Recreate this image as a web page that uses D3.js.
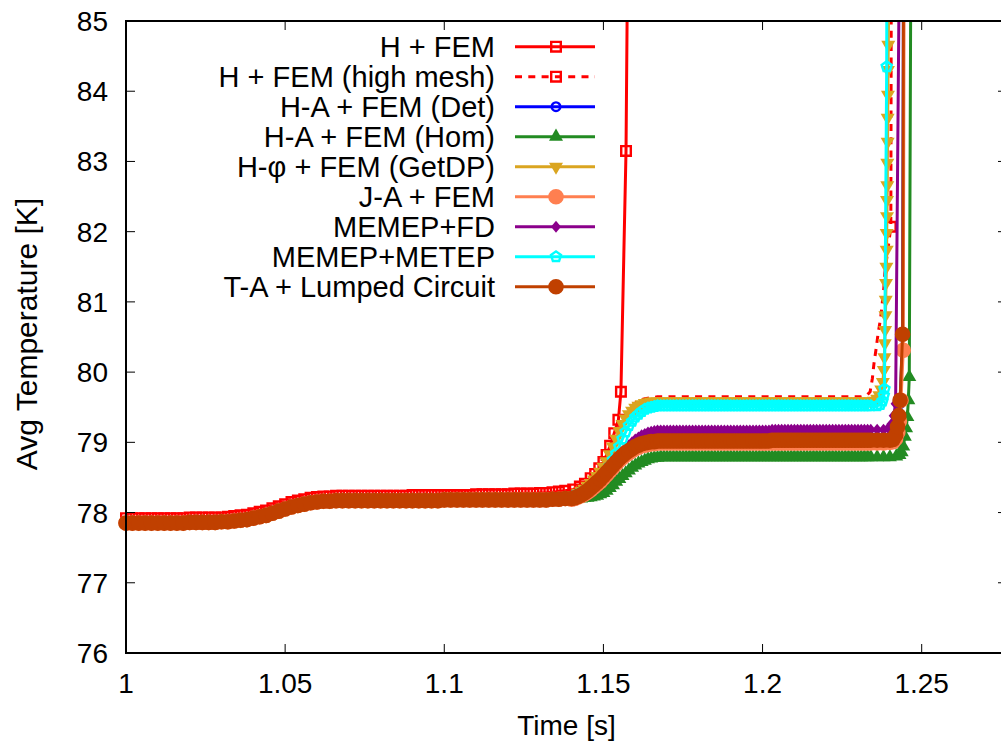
<!DOCTYPE html>
<html>
<head>
<meta charset="utf-8">
<script src="https://cdn.jsdelivr.net/npm/d3@7"></script>
<style>
  body { margin: 0; background: #fff; }
  svg { display: block; }
  text { font-family: "Liberation Sans", Arial, Helvetica, sans-serif; }
</style>
</head>
<body>
<svg id="chart" width="1001" height="745"></svg>
<script>
// ---- sampling instants [s] ----
const earlyTime = [1.000,1.002,1.004,1.006,1.008,1.010,1.012,1.014,1.016,1.018,1.020,1.022,1.024,1.026,1.028,1.030,
  1.032,1.034,1.036,1.038,1.040,1.042,1.044,1.046,1.048,1.050,1.052,1.054,1.056,1.058,1.060,1.062,1.064,1.066,1.068,
  1.070,1.072,1.074,1.076,1.078,1.080,1.082,1.084,1.086,1.088,1.090,1.092,1.094,1.096,1.098,
  1.100,1.102,1.104,1.106,1.108,1.110,1.112,1.114,1.116,1.118,1.120,1.122,1.124,1.126,1.128,
  1.130,1.132,1.134,1.136,1.138];
const lateTime = [1.140,1.141,1.142,1.143,1.144,1.145,1.146,1.147,1.148,1.149,
  1.150,1.151,1.152,1.153,1.154,1.155,1.156,1.157,1.158,1.159,
  1.160,1.161,1.162,1.163,1.164,1.165,1.166,1.167,1.168,1.169,
  1.170,1.171,1.172,1.173,1.174,1.175,1.176,1.177,1.178,1.179,
  1.180,1.181,1.182,1.183,1.184,1.185,1.186,1.187,1.188,1.189,
  1.190,1.191,1.192,1.193,1.194,1.195,1.196,1.197,1.198,1.199,
  1.200,1.201,1.202,1.203,1.204,1.205,1.206,1.207,1.208,1.209,
  1.210,1.211,1.212,1.213,1.214,1.215,1.216,1.217,1.218,1.219,
  1.220,1.221,1.222,1.223,1.224,1.225,1.226,1.227,1.228,1.229,
  1.230,1.231,1.232,1.233,1.234];

// ---- first step, common to all models except H + FEM [K] ----
const earlyTemp = [77.85,77.85,77.85,77.85,77.85,77.85,77.85,77.85,77.85,77.85,77.86,77.86,77.86,77.86,77.86,77.87,
  77.87,77.88,77.89,77.90,77.92,77.94,77.96,77.99,78.02,78.05,78.08,78.10,78.12,78.14,78.15,78.16,78.16,78.17,78.17,
  78.17,78.17,78.17,78.17,78.17,78.17,78.17,78.17,78.17,78.17,78.17,78.17,78.17,78.17,78.17,
  78.18,78.18,78.18,78.18,78.18,78.18,78.18,78.18,78.18,78.18,78.18,78.18,78.18,78.18,78.18,
  78.18,78.18,78.19,78.19,78.20];

// ---- H + FEM ----
const hfemEarly = [77.92,77.92,77.92,77.92,77.92,77.92,77.92,77.92,77.92,77.92,77.93,77.93,77.93,77.93,77.93,77.93,
  77.94,77.95,77.96,77.97,77.99,78.01,78.03,78.06,78.09,78.12,78.15,78.17,78.19,78.21,78.22,78.23,78.23,78.24,78.24,
  78.24,78.24,78.24,78.24,78.24,78.24,78.24,78.24,78.24,78.24,78.25,78.25,78.25,78.25,78.25,
  78.25,78.25,78.25,78.25,78.25,78.26,78.26,78.26,78.26,78.26,78.26,78.27,78.27,78.27,78.27,
  78.28,78.28,78.29,78.30,78.31];
const hfemTailT = [1.1405,1.1426,1.1442,1.1460,1.1474,1.1487,1.1500,1.1510,1.1521,1.1534,1.1547,1.1555,1.1571,1.1578];
const hfemTailV = [78.33,78.37,78.41,78.49,78.55,78.63,78.72,78.82,78.95,79.13,79.32,79.72,83.15,87.00];

// ---- H + FEM (high mesh) ----
const highMeshLate = [78.24,78.26,78.29,78.32,78.35,78.39,78.44,78.49,78.55,78.62,78.69,78.78,78.88,78.99,79.10,79.21,
  79.32,79.40,79.47,79.52,79.56,79.59,79.61,79.62,79.63,79.64,79.64,79.65,79.65,79.65,79.65,
  79.65,79.65,79.65,79.65,79.65,79.65,79.65,79.65,79.65,79.65,79.65,79.65,79.65,79.65,79.65,79.65,
  79.65,79.65,79.65,79.65,79.65,79.65,79.65,79.65,79.65,79.65,79.65,79.65,79.65,79.65,79.65,79.65,
  79.65,79.65,79.65,79.65,79.65,79.65,79.65,79.65,79.65,79.65,79.65,79.65,79.65,79.65,79.65,79.65,
  79.65,79.65,79.65,79.65,79.65,79.65,79.65,79.65,79.65,79.65,79.65,79.65,79.65];
const highMeshTailT = [1.2320,1.2330,1.2338,1.2345,1.2350,1.2357,1.2363,1.2371,1.2376,1.2381,1.2384,1.2394,1.2403,1.2405];
const highMeshTailV = [79.66,79.68,79.72,79.91,80.12,80.34,80.55,80.77,80.98,81.20,81.41,81.75,82.07,87.00];
const highMeshMarkT = [1.2403];
const highMeshMarkV = [82.07];

// ---- H-A + FEM (Det) ----
const detLate = [78.20,78.21,78.23,78.25,78.27,78.30,78.33,78.37,78.41,78.45,78.50,78.55,78.60,78.65,78.70,78.75,
  78.79,78.83,78.86,78.89,78.92,78.94,78.96,78.97,78.98,78.99,78.99,79.00,79.00,79.00,79.00,
  79.00,79.00,79.00,79.00,79.00,79.00,79.00,79.00,79.00,79.00,79.00,79.00,79.00,79.00,79.00,79.00,
  79.00,79.00,79.00,79.00,79.00,79.00,79.00,79.00,79.00,79.00,79.00,79.00,79.00,79.00,79.00,79.00,
  79.00,79.00,79.00,79.00,79.00,79.00,79.00,79.00,79.00,79.00,79.00,79.00,79.00,79.00,79.00,79.00,
  79.00,79.00,79.00,79.00,79.00,79.00,79.00,79.00,79.00,79.00,79.00,79.00,79.00,79.00,79.00,79.00];
const detTailT = [1.2360,1.2380,1.2400,1.2410,1.2418,1.2424,1.2428,1.2432,1.2440,1.2443];
const detTailV = [79.00,79.00,79.01,79.02,79.07,79.17,79.32,79.55,80.52,86.00];

// ---- H-A + FEM (Hom) ----
const homLate = [78.19,78.19,78.20,78.20,78.21,78.21,78.22,78.23,78.24,78.26,78.28,78.31,78.35,78.39,78.44,78.48,
  78.52,78.56,78.60,78.64,78.67,78.70,78.72,78.74,78.76,78.77,78.78,78.78,78.79,78.79,78.79,
  78.79,78.79,78.79,78.79,78.79,78.79,78.79,78.79,78.79,78.79,78.79,78.79,78.79,78.79,78.79,78.79,
  78.79,78.79,78.79,78.79,78.79,78.79,78.79,78.79,78.79,78.79,78.79,78.79,78.79,78.79,78.79,78.79,
  78.79,78.79,78.79,78.79,78.79,78.79,78.79,78.79,78.79,78.79,78.79,78.79,78.79,78.79,78.79,78.79,
  78.79,78.79,78.79,78.79,78.79,78.79,78.79,78.79,78.79,78.79,78.79,78.79,78.79,78.79,78.79,78.79];
const homTailT = [1.2360,1.2380,1.2400,1.2420,1.2430,1.2437,1.2442,1.2447,1.2451,1.2455,1.2458,1.2461,1.2466];
const homTailV = [78.79,78.79,78.79,78.80,78.82,78.86,78.94,79.08,79.20,79.36,79.60,79.93,86.00];

// ---- H-phi + FEM (GetDP) ----
const getdpLate = [78.23,78.25,78.28,78.31,78.34,78.38,78.42,78.47,78.52,78.58,78.65,78.73,78.83,78.94,79.05,79.16,
  79.26,79.34,79.40,79.45,79.49,79.52,79.54,79.56,79.57,79.58,79.58,79.58,79.58,79.58,79.58,
  79.58,79.58,79.58,79.58,79.58,79.58,79.58,79.58,79.58,79.58,79.58,79.58,79.58,79.58,79.58,79.58,
  79.58,79.58,79.58,79.58,79.58,79.58,79.58,79.58,79.58,79.58,79.58,79.58,79.58,79.58,79.58,79.58,
  79.58,79.58,79.58,79.58,79.58,79.58,79.58,79.58,79.58,79.58,79.58,79.58,79.58,79.58,79.58,79.58,
  79.58,79.58,79.58,79.58,79.58,79.58,79.58,79.58,79.58,79.58,79.58,79.58,79.58,79.58,79.58,79.58];
const getdpTailT = [1.2350,1.2360,1.2367,1.2373,1.2378,1.2381,1.2383,1.2384,1.2385,1.2386,1.2387,1.2388,1.2389,
  1.2390,1.2390,1.2391,1.2391,1.2392,1.2392,1.2393,1.2393,1.2394,1.2394,1.2395,1.2396];
const getdpTailV = [79.59,79.62,79.67,79.75,79.86,80.03,80.21,80.41,80.60,80.81,81.03,81.27,81.50,
  81.74,81.98,82.22,82.45,82.66,82.98,83.28,83.62,83.95,84.30,84.66,85.30];

// ---- J-A + FEM ----
const jaLate = [78.19,78.20,78.22,78.24,78.26,78.29,78.32,78.36,78.40,78.44,78.49,78.54,78.59,78.64,78.69,78.74,
  78.78,78.82,78.85,78.88,78.91,78.93,78.95,78.96,78.97,78.98,78.98,78.99,78.99,78.99,78.99,
  78.99,78.99,78.99,78.99,78.99,78.99,78.99,78.99,78.99,78.99,78.99,78.99,78.99,78.99,78.99,78.99,
  78.99,78.99,78.99,78.99,78.99,78.99,78.99,78.99,78.99,78.99,78.99,78.99,78.99,78.99,78.99,78.99,
  78.99,78.99,78.99,78.99,78.99,78.99,78.99,78.99,78.99,78.99,78.99,78.99,78.99,78.99,78.99,78.99,
  78.99,78.99,78.99,78.99,78.99,78.99,78.99,78.99,78.99,78.99,78.99,78.99,78.99,78.99,78.99,78.99];
const jaTailT = [1.2360,1.2380,1.2400,1.2410,1.2418,1.2425,1.2430,1.2435,1.2442,1.2445];
const jaTailV = [78.99,78.99,79.00,79.01,79.05,79.14,79.30,79.60,80.31,86.00];

// ---- MEMEP+FD ----
const fdLate = [78.21,78.22,78.24,78.26,78.29,78.32,78.36,78.40,78.45,78.50,78.55,78.60,78.66,78.72,78.77,78.82,
  78.87,78.92,78.96,79.00,79.04,79.07,79.10,79.12,79.14,79.15,79.16,79.17,79.17,79.17,79.17,
  79.17,79.17,79.17,79.17,79.17,79.17,79.17,79.17,79.17,79.17,79.17,79.17,79.17,79.17,79.17,79.17,
  79.17,79.17,79.17,79.17,79.17,79.17,79.17,79.17,79.17,79.17,79.17,79.17,79.17,79.17,79.17,79.17,
  79.18,79.18,79.18,79.18,79.18,79.18,79.18,79.18,79.18,79.18,79.18,79.18,79.18,79.18,79.18,79.18,
  79.18,79.18,79.18,79.18,79.18,79.18,79.18,79.18,79.18,79.18,79.18,79.18,79.18,79.18,79.18,79.18];
const fdTailT = [1.2360,1.2380,1.2395,1.2405,1.2412,1.2418,1.2430];
const fdTailV = [79.18,79.18,79.20,79.26,79.38,79.55,86.00];

// ---- MEMEP+METEP ----
const metepLate = [78.22,78.24,78.26,78.28,78.31,78.34,78.37,78.40,78.44,78.48,78.52,78.58,78.66,78.75,78.84,78.94,
  79.05,79.15,79.24,79.30,79.36,79.40,79.44,79.47,79.49,79.50,79.51,79.52,79.52,79.52,79.52,
  79.52,79.52,79.52,79.52,79.52,79.52,79.52,79.52,79.52,79.52,79.52,79.52,79.52,79.52,79.52,79.52,
  79.52,79.52,79.52,79.52,79.52,79.52,79.52,79.52,79.52,79.52,79.52,79.52,79.52,79.52,79.52,79.52,
  79.52,79.52,79.52,79.52,79.52,79.52,79.52,79.52,79.52,79.52,79.52,79.52,79.52,79.52,79.52,79.52,
  79.52,79.52,79.52,79.52,79.52,79.52,79.52,79.52,79.52,79.52,79.52,79.52,79.52,79.52,79.52,79.52];
const metepTailT = [1.2360,1.2370,1.2377,1.2381,1.2383,1.2390,1.2391];
const metepTailV = [79.52,79.54,79.59,79.67,79.76,84.35,87.00];

// ---- T-A + Lumped Circuit ----
const taLate = [78.20,78.21,78.23,78.25,78.28,78.31,78.35,78.39,78.43,78.47,78.52,78.57,78.62,78.67,78.72,78.77,
  78.81,78.85,78.88,78.91,78.94,78.96,78.98,78.99,79.00,79.01,79.01,79.02,79.02,79.02,79.02,
  79.02,79.02,79.02,79.02,79.02,79.02,79.02,79.02,79.02,79.02,79.02,79.02,79.02,79.02,79.02,79.02,
  79.02,79.02,79.02,79.02,79.02,79.02,79.02,79.02,79.02,79.02,79.02,79.02,79.02,79.02,79.02,79.02,
  79.03,79.03,79.03,79.03,79.03,79.03,79.03,79.03,79.03,79.03,79.03,79.03,79.03,79.03,79.03,79.03,
  79.03,79.03,79.03,79.03,79.03,79.03,79.03,79.03,79.03,79.03,79.03,79.03,79.03,79.03,79.03,79.03];
const taTailT = [1.2360,1.2380,1.2400,1.2410,1.2418,1.2424,1.2428,1.2432,1.2440,1.2443];
const taTailV = [79.03,79.03,79.03,79.04,79.10,79.22,79.38,79.60,80.54,86.00];

// ---- axes ----
const xTicks = [1, 1.05, 1.1, 1.15, 1.2, 1.25];
const xTickLabels = ["1", "1.05", "1.1", "1.15", "1.2", "1.25"];
const yTicks = [76, 77, 78, 79, 80, 81, 82, 83, 84, 85];

// ---- assemble each run: time/temperature pairs ----
function zip(t, v) { return t.map((ti, i) => [ti, v[i]]); }
function run(late, tailT, tailV) {
  return zip(earlyTime.concat(lateTime.slice(0, late.length), tailT), earlyTemp.concat(late, tailV));
}

const series = [
  { name: "H + FEM", color: "#ff0000", marker: "square", open: true,
    pts: zip(earlyTime.concat(hfemTailT), hfemEarly.concat(hfemTailV)) },
  { name: "H + FEM (high mesh)", color: "#ff0000", marker: "square", open: true, dash: "7,6.3",
    pts: run(highMeshLate, highMeshTailT, highMeshTailV), marks: zip(highMeshMarkT, highMeshMarkV) },
  { name: "H-A + FEM (Det)", color: "#0000ff", marker: "circleSmall", open: true, pts: run(detLate, detTailT, detTailV) },
  { name: "H-A + FEM (Hom)", color: "#228b22", marker: "triUp", pts: run(homLate, homTailT, homTailV) },
  { name: "H-\u03c6 + FEM (GetDP)", color: "#daa520", marker: "triDown", pts: run(getdpLate, getdpTailT, getdpTailV) },
  { name: "J-A + FEM", color: "#ff7f50", marker: "circleBig", pts: run(jaLate, jaTailT, jaTailV) },
  { name: "MEMEP+FD", color: "#8b008b", marker: "diamond", pts: run(fdLate, fdTailT, fdTailV) },
  { name: "MEMEP+METEP", color: "#00ffff", marker: "pentagon", open: true, pts: run(metepLate, metepTailT, metepTailV) },
  { name: "T-A + Lumped Circuit", color: "#c04000", marker: "circleBig", pts: run(taLate, taTailT, taTailV) }
];

// ---- point symbols ----
function circlePath(r) { return `M${r},0A${r},${r} 0 1,1 ${-r},0A${r},${r} 0 1,1 ${r},0Z`; }
function polyPath(p) { return "M" + p.map(q => q[0].toFixed(2) + "," + q[1].toFixed(2)).join("L") + "Z"; }
const symbols = {
  square: (() => { const h = 4.8; return polyPath([[-h,-h],[h,-h],[h,h],[-h,h]]); })(),
  circleSmall: circlePath(4.3),
  circleBig: circlePath(7.8),
  triUp: polyPath([[0,-8.1],[7,4.05],[-7,4.05]]),
  triDown: polyPath([[0,8.1],[7,-4.05],[-7,-4.05]]),
  diamond: polyPath([[0,-6],[5,0],[0,6],[-5,0]]),
  pentagon: polyPath(d3.range(5).map(k => { const a = -Math.PI/2 + k*2*Math.PI/5; return [5.3*Math.cos(a), 5.3*Math.sin(a)]; }))
};

// ---- layout ----
const svg = d3.select("#chart");
const L = 126, R = 1007, T = 21, B = 653;
const x = d3.scaleLinear().domain([1, 1.2768]).range([L, R]);
const y = d3.scaleLinear().domain([76, 85]).range([B, T]);
const FS = 28, FS_KEY = 29, FS_YLABEL = 30;

svg.append("defs").append("clipPath").attr("id", "plotClip")
  .append("rect").attr("x", L).attr("y", T).attr("width", R - L).attr("height", B - T);

const line = d3.line().x(d => x(d[0])).y(d => y(d[1]));
const inside = d => d[0] >= x.domain()[0] && d[0] <= x.domain()[1] && d[1] >= 76 && d[1] <= 85;

function styleMark(sel, s) {
  sel.attr("d", symbols[s.marker])
    .attr("fill", s.open ? "none" : s.color)
    .attr("stroke", s.open ? s.color : "none")
    .attr("stroke-width", s.open ? 2.4 : 0);
}

// ---- curves ----
const plot = svg.append("g");
series.forEach(s => {
  const g = plot.append("g");
  g.append("path").datum(s.pts)
    .attr("clip-path", "url(#plotClip)")
    .attr("d", line)
    .attr("fill", "none")
    .attr("stroke", s.color)
    .attr("stroke-width", 3)
    .attr("stroke-linejoin", "round")
    .attr("stroke-dasharray", s.dash || null);
  g.selectAll("path.mk").data((s.marks || s.pts).filter(inside)).join("path")
    .attr("class", "mk")
    .attr("transform", d => `translate(${x(d[0])},${y(d[1])})`)
    .call(styleMark, s);
});

// ---- legend ----
const legend = svg.append("g");
series.forEach((s, i) => {
  const cy = 46.7 + 30 * i;
  legend.append("text").attr("x", 495).attr("y", cy + 10.5)
    .attr("text-anchor", "end").attr("font-size", FS_KEY).attr("fill", "#000").text(s.name);
  legend.append("line").attr("x1", 515).attr("x2", 595).attr("y1", cy).attr("y2", cy)
    .attr("stroke", s.color).attr("stroke-width", 3).attr("stroke-dasharray", s.dash || null);
  legend.append("path").attr("transform", `translate(556,${cy})`).call(styleMark, s);
});

// ---- frame, ticks, labels ----
const frame = svg.append("g");
xTicks.forEach((t, i) => {
  const px = x(t);
  frame.append("line").attr("x1", px).attr("x2", px).attr("y1", B).attr("y2", B - 9).attr("stroke", "#000").attr("stroke-width", 1);
  frame.append("line").attr("x1", px).attr("x2", px).attr("y1", T).attr("y2", T + 9).attr("stroke", "#000").attr("stroke-width", 1);
  frame.append("text").attr("x", px).attr("y", 693).attr("text-anchor", "middle")
    .attr("font-size", FS).text(xTickLabels[i]);
});
yTicks.forEach(v => {
  const py = y(v);
  frame.append("line").attr("x1", L).attr("x2", L + 9).attr("y1", py).attr("y2", py).attr("stroke", "#000").attr("stroke-width", 1);
  frame.append("line").attr("x1", R).attr("x2", R - 9).attr("y1", py).attr("y2", py).attr("stroke", "#000").attr("stroke-width", 1);
  frame.append("text").attr("x", 108).attr("y", py + 10).attr("text-anchor", "end")
    .attr("font-size", FS).text(v);
});
frame.append("rect").attr("x", L).attr("y", T).attr("width", R - L).attr("height", B - T)
  .attr("fill", "none").attr("stroke", "#000").attr("stroke-width", 2);

frame.append("text").attr("x", (L + R) / 2).attr("y", 735).attr("text-anchor", "middle")
  .attr("font-size", FS).text("Time [s]");
frame.append("text").attr("transform", `translate(37,334) rotate(-90)`)
  .attr("text-anchor", "middle").attr("font-size", FS_YLABEL).text("Avg Temperature [K]");
</script>
</body>
</html>
